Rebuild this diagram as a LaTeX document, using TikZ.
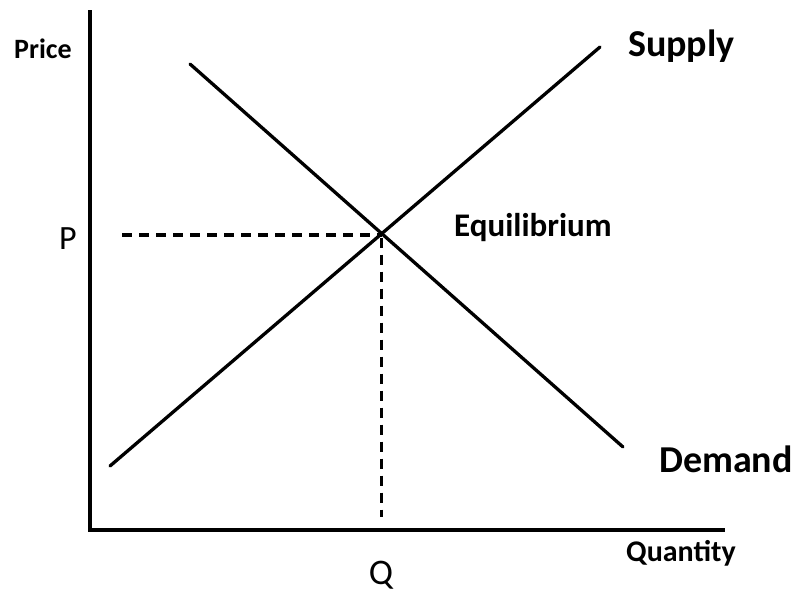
\documentclass[tikz,border=0pt]{standalone}
\usepackage{fontspec}
\setmainfont{Carlito}
\usetikzlibrary{calc,intersections}
\begin{document}
\begin{tikzpicture}[x=1pt,y=-1pt,
  axis/.style={line width=3.8pt,line cap=rect},
  curve/.style={line width=3.3pt,line cap=round},
  guide/.style={line width=3.4pt,dash pattern=on 10pt off 7pt},
  lbl/.style={inner sep=0pt,anchor=base west,font=\bfseries}]
\useasboundingbox (0,0) rectangle (808,593);
\fill[white] (0,0) rectangle (808,593);
% axes
\coordinate (top) at (90,12);
\coordinate (origin) at (90,530);
\coordinate (right) at (723,530);
\draw[axis] (top) -- (origin) -- (right);
% curves
\coordinate (s1) at (110,466);
\coordinate (s2) at (600,47);
\coordinate (d1) at (190,64);
\coordinate (d2) at (623,447);
\draw[curve,name path=supply] (s1) -- (s2);
\draw[curve,name path=demand] (d1) -- (d2);
\path[name intersections={of=supply and demand,by=eq}];
% guides
\coordinate (pstart) at (122,235);
\coordinate (qend) at (381,517);
\draw[guide] (pstart) -- (pstart -| eq);
\draw[guide] ($(eq)+(0,4)$) coordinate (qtop) -- (qtop |- qend);
% labels
\node[lbl,font=\bfseries\fontsize{28}{30}\selectfont] (price) at (14,59) {Price};
\node[lbl,font=\bfseries\fontsize{30}{32}\selectfont] (qty) at (626,561) {Quantity};
\node[lbl,font=\bfseries\fontsize{38}{40}\selectfont] (supply) at (628,57) {Supply};
\node[lbl,font=\bfseries\fontsize{38}{40}\selectfont] (demand) at (659,472) {Demand};
\node[lbl,font=\bfseries\fontsize{33}{35}\selectfont] (equil) at (454,237) {Equilibrium};
\node[inner sep=0pt,anchor=base west,font=\fontsize{34}{36}\selectfont] (p) at (59,250) {P};
\node[inner sep=0pt,anchor=base,font=\fontsize{36}{38}\selectfont] (q) at (381,584) {Q};
\end{tikzpicture}
\end{document}
